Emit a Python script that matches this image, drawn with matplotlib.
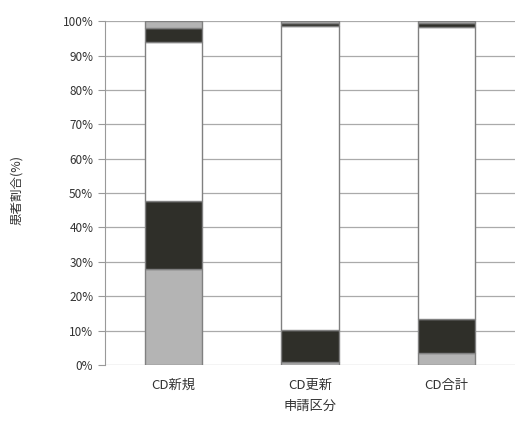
import matplotlib
matplotlib.use("Agg")
import matplotlib.pyplot as plt
import numpy as np

plt.rcParams['font.family'] = ['Noto Sans CJK JP', 'DejaVu Sans']

categories = ["CD新規", "CD更新", "CD合計"]
# segments from bottom to top (percent)
seg1 = [28.0, 1.0, 3.5]     # light gray
seg2 = [19.6, 9.2, 10.0]    # dark
seg3 = [46.4, 88.3, 84.7]   # white
seg4 = [4.0, 1.0, 1.3]      # dark
seg5 = [2.0, 0.5, 0.5]      # light gray
series = [seg1, seg2, seg3, seg4, seg5]
colors = ["#b4b4b4", "#2f2f29", "#ffffff", "#2f2f29", "#b4b4b4"]
yticks = [0, 10, 20, 30, 40, 50, 60, 70, 80, 90, 100]

fig = plt.figure(figsize=(5.15, 4.23), dpi=100)
ax = fig.add_axes([0.204, 0.137, 0.796, 0.813])

x = np.arange(len(categories))
bottom = np.zeros(len(categories))
for vals, c in zip(series, colors):
    ax.bar(x, vals, width=0.42, bottom=bottom, color=c, edgecolor="#808080", linewidth=1.0, zorder=3)
    bottom += np.array(vals)

ax.set_xlim(-0.5, 2.5)
ax.set_ylim(0, 100)
ax.set_yticks(yticks)
ax.set_yticklabels([f"{v}%" for v in yticks], fontsize=8.5, color="#333333")
ax.set_xticks(x)
ax.set_xticklabels(categories, fontsize=9.5, color="#333333")
ax.tick_params(axis='x', length=0, pad=10)
ax.tick_params(axis='y', length=5, color="#999999", direction='out')
ax.yaxis.grid(True, color="#aaaaaa", linewidth=0.9, zorder=0)
for s in ["top", "right", "bottom"]:
    ax.spines[s].set_visible(False)
ax.spines["left"].set_color("#999999")
ax.set_xlabel("申請区分", fontsize=9.5, color="#333333", labelpad=6)
ax.set_ylabel("患者割合(%)", fontsize=9, color="#333333", labelpad=22)
ax.yaxis.set_label_coords(-0.2, 0.51)

fig.savefig("out.png", dpi=100)
